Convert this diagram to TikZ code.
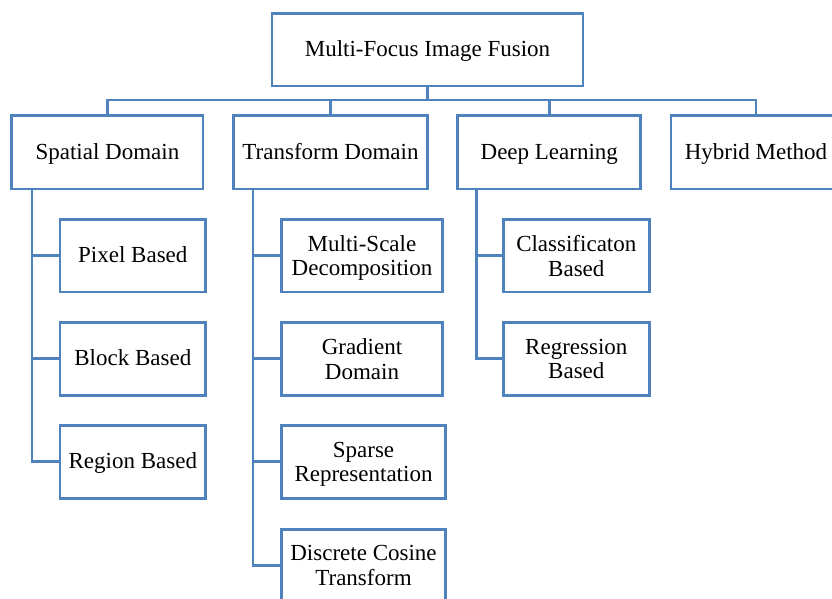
\documentclass[tikz,border=0pt]{standalone}
\usepackage{fontspec}
\setmainfont{Liberation Serif}
\definecolor{frame}{RGB}{79,129,189}
\begin{document}
\begin{tikzpicture}[x=1pt,y=-1pt,
  box/.style={draw=frame, line width=2.7pt, fill=white, inner sep=0pt,
    align=center, text depth=0pt, font=\fontsize{23}{24.5}\selectfont},
  single/.style={text height=14pt},
  link/.style={draw=frame, line width=2.7pt}]
\useasboundingbox (0,0) rectangle (832,598);

% root
\node[box, single, minimum width=311pt, minimum height=72.7pt] (root) at (427.5,49.7) {Multi-Focus Image Fusion};

% main categories
\node[box, single, minimum width=191.3pt, minimum height=73.3pt] (spatial)   at (107.4,152.3) {Spatial Domain};
\node[box, single, minimum width=194.2pt, minimum height=73.3pt] (transform) at (330.5,152.3) {Transform Domain};
\node[box, single, minimum width=183pt,   minimum height=73.3pt] (deep)      at (549.3,152.3) {Deep Learning};
\node[box, single, minimum width=170pt,   minimum height=73.3pt] (hybrid)    at (756,152.3)   {Hybrid Method};

% spatial domain methods
\node[box, single, minimum width=145.7pt, minimum height=72.7pt] (pixel)  at (132.8,255.7) {Pixel Based};
\node[box, single, minimum width=145.7pt, minimum height=72.7pt] (block)  at (132.8,358.8) {Block Based};
\node[box, single, minimum width=145.7pt, minimum height=72.7pt] (region) at (132.8,461.8) {Region Based};

% transform domain methods
\node[box, minimum width=160.6pt, minimum height=72.7pt] (msd)      at (362,255.7)   {Multi-Scale\\Decomposition};
\node[box, minimum width=160.6pt, minimum height=72.7pt] (gradient) at (362,358.8)   {Gradient\\Domain};
\node[box, minimum width=163.6pt, minimum height=72.7pt] (sparse)   at (363.5,461.8) {Sparse\\Representation};
\node[box, minimum width=163.6pt, minimum height=72.7pt] (dct)      at (363.5,565.5) {Discrete Cosine\\Transform};

% deep learning methods
\node[box, minimum width=146pt, minimum height=72.7pt] (classif) at (576.3,255.7) {Classificaton\\Based};
\node[box, minimum width=146pt, minimum height=72.7pt] (regress) at (576.3,358.8) {Regression\\Based};

% bus and trunk positions
\coordinate (bus) at (0,100);
\coordinate (sx) at (32,0);
\coordinate (tx) at (253,0);
\coordinate (dx) at (476.5,0);

% root to categories
\draw[link] (root.south) -- (root.south |- bus);
\draw[link] (spatial.north) |- (bus -| hybrid.north) -- (hybrid.north);
\draw[link] (transform.north) -- (transform.north |- bus);
\draw[link] (deep.north) -- (deep.north |- bus);

% spatial domain tree
\draw[link] (spatial.south -| sx) |- (region.west);
\draw[link] (pixel.west) -- (pixel.west -| sx);
\draw[link] (block.west) -- (block.west -| sx);

% transform domain tree
\draw[link] (transform.south -| tx) |- (dct.west);
\draw[link] (msd.west) -- (msd.west -| tx);
\draw[link] (gradient.west) -- (gradient.west -| tx);
\draw[link] (sparse.west) -- (sparse.west -| tx);

% deep learning tree
\draw[link] (deep.south -| dx) |- (regress.west);
\draw[link] (classif.west) -- (classif.west -| dx);
\end{tikzpicture}
\end{document}
